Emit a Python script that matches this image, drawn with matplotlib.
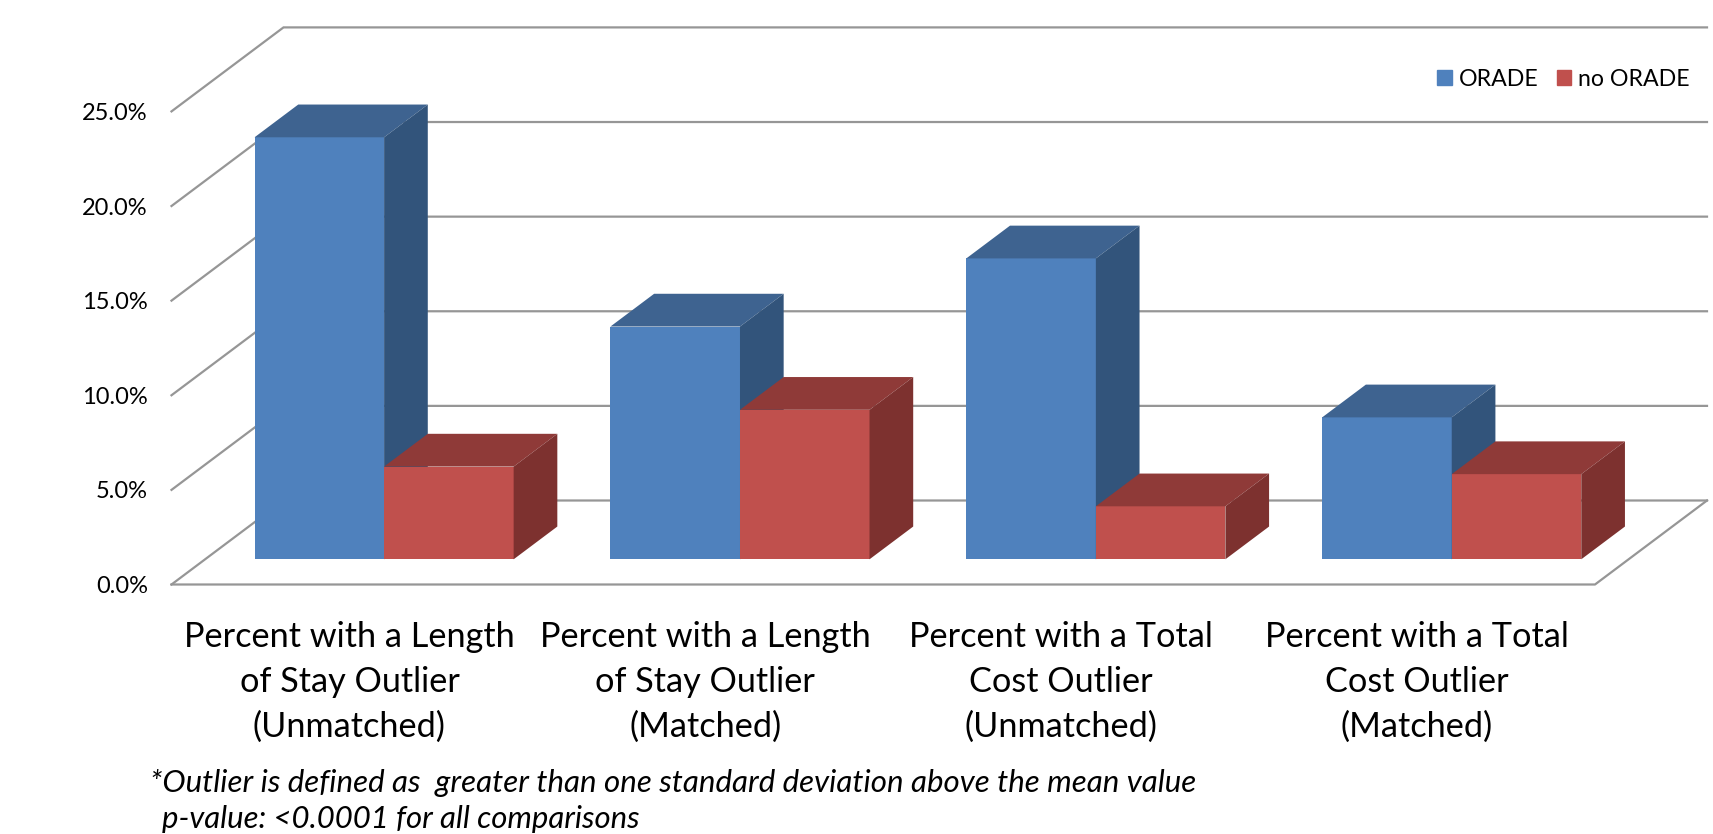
import matplotlib
matplotlib.use("Agg")
import matplotlib.pyplot as plt
from matplotlib.patches import Patch

plt.rcParams['font.family'] = ['Lato', 'DejaVu Sans']

categories = [
    "Percent with a Length\nof Stay Outlier\n(Unmatched)",
    "Percent with a Length\nof Stay Outlier\n(Matched)",
    "Percent with a Total\nCost Outlier\n(Unmatched)",
    "Percent with a Total\nCost Outlier\n(Matched)",
]
orade = [22.3, 12.3, 15.9, 7.5]
no_orade = [4.9, 7.9, 2.8, 4.5]
y_ticks = [0, 5, 10, 15, 20, 25]

W, H = 1713, 834
# plot rectangle of the front plane, pixels
LEFT, RIGHT, BOTTOM, TOP = 171.5, 1595, 584.5, 111.4

# fake 3d: how far the back wall is shifted, in data units
DEPTH_X = 112 / ((RIGHT - LEFT) / 4)
DEPTH_Y = 84 / ((BOTTOM - TOP) / 25)
BAR_W = 0.364
BAR_D0 = 0.3
BAR_D1 = 0.69
BAR_SHIFT = 0.003
GRID = "#969696"

BLUE = ("#4f81bd", "#3e6390", "#32547b")
RED = ("#c0504d", "#8f3a38", "#7d312f")

fig = plt.figure(figsize=(W / 100, H / 100), dpi=100)
ax = fig.add_axes([LEFT / W, 1 - BOTTOM / H, (RIGHT - LEFT) / W, (BOTTOM - TOP) / H])
ax.set_xlim(0, 4)
ax.set_ylim(0, 25)
for s in ax.spines.values():
    s.set_visible(False)


def draw_bar(x, val, cols):
    x0 = x + BAR_D0 * DEPTH_X
    y0 = BAR_D0 * DEPTH_Y
    dx = (BAR_D1 - BAR_D0) * DEPTH_X
    dy = (BAR_D1 - BAR_D0) * DEPTH_Y
    ax.bar(x0, val, bottom=y0, width=BAR_W, align="edge", color=cols[0], zorder=3, clip_on=False)
    ax.fill([x0, x0 + BAR_W, x0 + BAR_W + dx, x0 + dx],
            [y0 + val, y0 + val, y0 + val + dy, y0 + val + dy],
            color=cols[1], lw=0, zorder=3, clip_on=False)
    ax.fill([x0 + BAR_W, x0 + BAR_W + dx, x0 + BAR_W + dx, x0 + BAR_W],
            [y0, y0 + dy, y0 + val + dy, y0 + val],
            color=cols[2], lw=0, zorder=3, clip_on=False)


# back wall gridlines and the side wall
for t in y_ticks:
    ax.plot([0, DEPTH_X, 4 + DEPTH_X], [t, t + DEPTH_Y, t + DEPTH_Y],
            color=GRID, lw=1.6, zorder=1, clip_on=False, solid_joinstyle="miter")
# floor
ax.plot([0, 4, 4 + DEPTH_X], [0, 0, DEPTH_Y], color=GRID, lw=1.6, zorder=1, clip_on=False)

for i in range(len(categories)):
    draw_bar(i + 0.5 - BAR_W + BAR_SHIFT, orade[i], BLUE)
    draw_bar(i + 0.5 + BAR_SHIFT, no_orade[i], RED)

ax.set_xticks([i + 0.5 for i in range(len(categories))])
ax.set_xticklabels(categories, fontsize=24.7, linespacing=1.5)
ax.set_yticks(y_ticks)
ax.set_yticklabels([f"{t:.1f}%" for t in y_ticks], fontsize=17)
ax.tick_params(axis="x", length=0, pad=26)
ax.tick_params(axis="y", length=0, pad=17)

handles = [Patch(color=BLUE[0], label="ORADE"), Patch(color=RED[0], label="no ORADE")]
fig.legend(handles=handles, loc="upper right", bbox_to_anchor=(1690 / W, 1 - 69 / H), ncol=2,
           frameon=False, fontsize=16.7, handlelength=0.62, handleheight=0.62,
           handletextpad=0.3, columnspacing=0.8, borderpad=0, borderaxespad=0)

fig.text(150 / W, 1 - 783 / H, "*Outlier is defined as  greater than one standard deviation above the mean value",
         fontsize=22.5, style="italic", va="center")
fig.text(162 / W, 1 - 819 / H, "p-value: <0.0001 for all comparisons",
         fontsize=22.4, style="italic", va="center")

fig.savefig("out.png", dpi=100)
